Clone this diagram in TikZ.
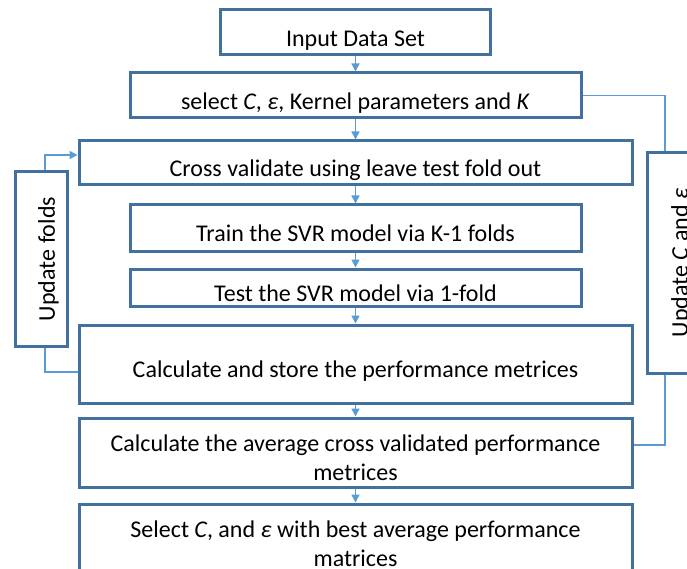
\documentclass[tikz,border=0pt]{standalone}
\usepackage{fontspec}
\setmainfont{Carlito}
\usetikzlibrary{arrows.meta}
\definecolor{cedge}{HTML}{41719C}
\definecolor{clink}{HTML}{5B9BD5}
\newcommand{\lowtext}[1]{\raisebox{-8pt}[\height][\depth]{\begin{tabular}{@{}c@{}}#1\end{tabular}}}
\tikzset{
  every picture/.style={line width=1.5pt},
  box/.style={draw=cedge, line width=3pt, fill=white, inner sep=0pt, font=\fontsize{24}{29}\selectfont},
  arrow/.style={-{Triangle[length=8pt, width=8pt]}, draw=clink, line width=1.5pt},
  link/.style={draw=clink, line width=1.5pt},
}

\begin{document}
\begin{tikzpicture}[x=1pt, y=-1pt]
  \useasboundingbox (0,0) rectangle (687,569);
  \clip (0,0) rectangle (687,569);
  % main column
  \node[box, minimum width=270pt, minimum height=45pt] (input) at (355.5,32.5) {\lowtext{Input Data Set}};
  \node[box, minimum width=451pt, minimum height=45pt] (select) at (355.5,95.5) {\lowtext{select \textit{C}, \textit{ε}, Kernel parameters and \textit{K}}};
  \node[box, minimum width=553pt, minimum height=44pt] (cross) at (355.5,163) {\lowtext{Cross validate using leave test fold out}};
  \node[box, minimum width=451pt, minimum height=46pt] (train) at (355.5,228) {\lowtext{Train the SVR model via K-1 folds}};
  \node[box, minimum width=451pt, minimum height=37pt] (test) at (355.5,287.5) {\lowtext{Test the SVR model via 1-fold}};
  \node[box, minimum width=553pt, minimum height=78pt] (store) at (355.5,364) {\lowtext{Calculate and store the performance metrices}};
  \node[box, minimum width=553pt, minimum height=69pt] (avg) at (355.5,452.5) {\lowtext{Calculate the average cross validated performance\\metrices}};
  \node[box, minimum width=553pt, minimum height=69pt] (best) at (355.5,538.5) {\lowtext{Select \textit{C}, and \textit{ε} with best average performance\\matrices}};
  \foreach \a/\b in {input/select, select/cross, cross/train, train/test, test/store, store/avg, avg/best}
    \draw[arrow] (\a.south) -- (\b.north);
  % side loops (rotated boxes: east is the top side, west the bottom side)
  \node[box, rotate=90, minimum width=174pt, minimum height=52pt] (folds) at (41,259) {\lowtext{Update folds}};
  \node[box, rotate=90, minimum width=220pt, minimum height=54pt] (ctrl) at (674,263) {\lowtext{Update \textit{C} and \textit{ε}}};
  \draw[arrow] ([xshift=4pt]folds.east) |- ([yshift=8pt]cross.west);
  \draw[link] ([xshift=4pt]folds.west) |- ([yshift=-8pt]store.west);
  \draw[link] (select.east) -| ([xshift=-9pt]ctrl.east);
  \draw[link] ([xshift=-9pt]ctrl.west) |- ([yshift=7.5pt]avg.east);
\end{tikzpicture}
\end{document}
